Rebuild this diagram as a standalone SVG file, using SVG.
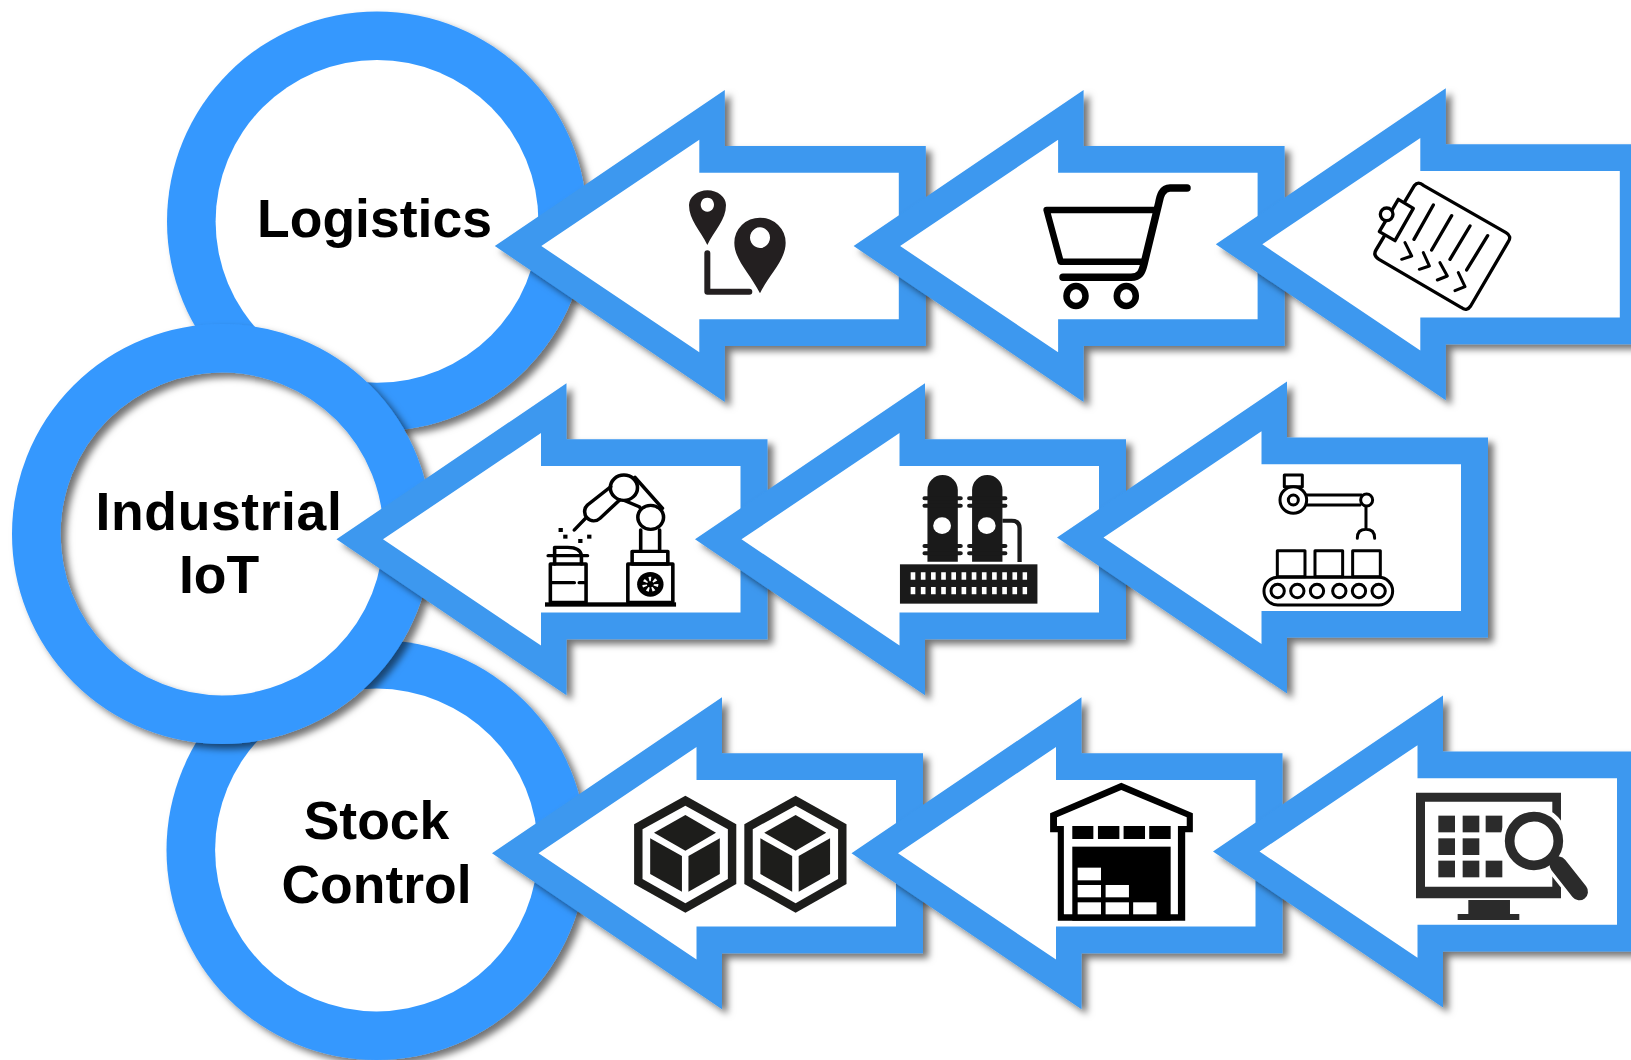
<svg xmlns="http://www.w3.org/2000/svg" xmlns:xlink="http://www.w3.org/1999/xlink" width="1631" height="1060" viewBox="0 0 1631 1060">
<style>
text{font-family:"Liberation Sans",Arial,sans-serif;font-weight:700;font-size:53.5px;fill:#000;text-anchor:middle}
.ln{fill:none;stroke:#000;stroke-linecap:round;stroke-linejoin:round}
.ring{fill:none;stroke:#3698fe;stroke-width:48.6}
.outer{fill:#3698fe}
.disk{fill:#fff}
</style>
<defs>
<filter id="sh" x="-10%" y="-10%" width="125%" height="125%"><feDropShadow dx="5.500" dy="5" stdDeviation="3.500" flood-color="#000" flood-opacity=".55"/></filter>
<g id="arrow">
<polygon filter="url(#sh)" fill="#3c98ef" points="0,0 230,-156 230,-100 431,-100 431,100 230,100 230,156"/>
<polygon fill="#fff" points="46.5,0 204.5,-106.3 204.5,-73.3 404,-73.3 404,73.3 204.5,73.3 204.5,106.3"/>
</g>
<g id="hexbox">
<polygon fill="#1d1d1b" points="197,77 330,163 330,342 197,428 63,342 63,163"/>
<polygon fill="#fff" points="197,107 308,178 308,327 197,400 85,327 85,178"/>
<polygon fill="#1d1d1b" points="197,135 277,188 197,242 115,188"/>
<polygon fill="#1d1d1b" points="105,205 188,258 188,365 105,312"/>
<polygon fill="#1d1d1b" points="205,258 287,205 287,312 205,365"/>
</g>
</defs>
<rect width="1631" height="1060" fill="#fff"/>

<g id="node-logistics">
<circle class="outer" cx="377" cy="221.4" r="210" filter="url(#sh)"/>
<circle class="disk" cx="377" cy="221.4" r="161.4"/>
<text x="374.500" y="236.700">Logistics</text>
</g>
<g id="node-stock-control">
<circle class="outer" cx="376.5" cy="850" r="210" filter="url(#sh)"/>
<circle class="disk" cx="376.5" cy="850" r="161.4"/>
<text x="376.5" y="839">Stock</text>
<text x="376.5" y="903">Control</text>
</g>
<g id="node-industrial-iot">
<circle class="disk" cx="222" cy="534" r="165"/>
<circle class="ring" cx="222" cy="534" r="185.7" filter="url(#sh)"/>
<text x="219" y="529.500" letter-spacing=".6">Industrial</text>
<text x="219" y="593">IoT</text>
</g>

<g id="connectors">
<g id="arrow-route">
<use href="#arrow" transform="translate(494.8,246)"/>
<g transform="translate(660,170) scale(.3333)">
<path fill="#231f20" fill-rule="evenodd" d="M142,225C120,180 87,150 87,105A55.500,44 0 0 1 198,105C198,150 164,180 142,225ZM142,83a20,21 0 1 0 .1,0Z"/>
<path fill="#231f20" fill-rule="evenodd" d="M300,370C270,310 223,270 223,218A77,75 0 0 1 377,218C377,270 330,310 300,370ZM300,172a30,31 0 1 0 .1,0Z"/>
<path fill="none" stroke="#231f20" stroke-width="18" stroke-linecap="round" stroke-linejoin="round" d="M142,250V365H268"/>
</g>
</g>
<g id="arrow-cart">
<use href="#arrow" transform="translate(853.6,246)"/>
<g class="ln" stroke-width="6.500">
<path d="M1187,188H1170C1162,188 1160,196 1158.800,203L1144,264C1142,272 1140,277.300 1131,277.300H1063" stroke-width="7.500"/>
<path d="M1156,210H1046.600L1060.600,261.700H1143.300" stroke-width="6.500"/>
<ellipse cx="1076" cy="296" rx="9.500" ry="10"/>
<ellipse cx="1126.300" cy="296" rx="9.500" ry="10"/>
</g>
</g>
<g id="arrow-clipboard">
<use href="#arrow" transform="translate(1215.800,244.300)"/>
<g transform="translate(1360,170) scale(.3333)" class="ln" stroke-width="10" stroke="#1a1a1a">
<path fill="#fff" d="M163,47Q175,32 190,46L438,188Q456,198 445,215L332,408Q320,426 303,412L57,268Q38,256 48,240Z"/>
<polygon points="115,88 160,115 105,212 58,185" fill="#fff"/>
<circle cx="80" cy="133" r="19" fill="#fff"/>
<path d="M220,105L162,208M275,137L215,240M330,168L270,268M383,197L320,300"/>
<path d="M135,218L155,258L125,268M190,248L208,288L178,298M240,278L262,318L232,330M295,308L315,350L285,362" stroke-width="9"/>
</g>
</g>

<g id="arrow-robot-arm">
<use href="#arrow" transform="translate(336.500,539.300)"/>
<g transform="translate(500,440) scale(.3571,.3333)">
<rect x="126" y="487" width="367" height="13" fill="#000"/>
<g class="ln" stroke-width="10" stroke-linecap="butt">
<rect x="141" y="372" width="100" height="115"/>
<path d="M135,347H245M153,347V372M228,347V372M153,347V322H190Q225,322 228,347M146,428H208M222,428H236"/>
<rect x="358" y="372" width="126" height="115"/>
<rect x="370" y="334" width="100" height="38"/>
<path d="M394,270V334M447,270V334"/>
<path d="M378,112L455,205A40,42 0 0 1 390,200L345,180"/>
<circle cx="347" cy="143" r="38" fill="#fff"/>
<circle cx="422" cy="232" r="36" fill="#fff"/>
<path d="M310,140L245,195A25,27 0 0 0 280,235L335,180"/>
<path d="M242,232L208,270"/>
</g>
<circle cx="421" cy="433" r="37" fill="#000"/>
<circle cx="421" cy="433" r="16" fill="none" stroke="#fff" stroke-width="13" stroke-dasharray="6 7.900"/>
<circle cx="421" cy="433" r="8" fill="#000"/>
<rect x="164" y="264" width="12" height="12"/><rect x="177" y="284" width="12" height="12"/><rect x="219" y="297" width="12" height="12"/><rect x="244" y="284" width="12" height="12"/>
</g>
</g>
<g id="arrow-refinery">
<use href="#arrow" transform="translate(695,539.300)"/>
<g transform="translate(500,440) scale(.3571,.3333)" fill="#1a1a1a">
<path d="M1197,365V150A42.500,45 0 0 1 1282,150V365Z"/>
<path d="M1322,365V150A42.500,45 0 0 1 1407,150V365Z"/>
<path d="M1189,175H1290M1189,197H1290M1189,318H1290M1189,340H1290M1314,175H1415M1314,197H1415M1314,318H1415M1314,340H1415" stroke="#1a1a1a" stroke-width="12" stroke-linecap="round"/>
<circle cx="1238" cy="257" r="25" fill="#fff"/>
<circle cx="1363" cy="257" r="25" fill="#fff"/>
<path d="M1407,242H1433Q1455,242 1455,265V366" fill="none" stroke="#1a1a1a" stroke-width="12"/>
<rect x="1120" y="373" width="385" height="118"/>
<path d="M1150,408H1476M1150,452H1476" stroke="#fff" stroke-width="22" stroke-dasharray="13 15.500" fill="none"/>
</g>
</g>
<g id="arrow-conveyor">
<use href="#arrow" transform="translate(1057,537.600)"/>
<g transform="translate(1180,440) scale(.3333)" class="ln" stroke-width="9" stroke="#111">
<rect x="313" y="105" width="54" height="35"/>
<path d="M375,165H545M378,195H540M558,198V265M532,295Q532,268 558,268Q584,268 584,295"/>
<circle cx="340" cy="180" r="40" fill="#fff"/>
<circle cx="340" cy="180" r="15"/>
<circle cx="560" cy="180" r="18" fill="#fff"/>
<rect x="292" y="332" width="83" height="78"/>
<rect x="405" y="332" width="83" height="78"/>
<rect x="518" y="332" width="83" height="78"/>
<rect x="252" y="412" width="386" height="83" rx="41"/>
<circle cx="293" cy="453" r="20"/><circle cx="352" cy="453" r="20"/><circle cx="411" cy="453" r="20"/><circle cx="478" cy="453" r="20"/><circle cx="537" cy="453" r="20"/><circle cx="596" cy="453" r="20"/>
</g>
</g>

<g id="arrow-boxes">
<use href="#arrow" transform="translate(492,853.300)"/>
<g transform="translate(610,770) scale(.3827,.3333)">
<use href="#hexbox"/>
<use href="#hexbox" x="288"/>
</g>
</g>
<g id="arrow-warehouse">
<use href="#arrow" transform="translate(851.500,853.300)"/>
<g transform="translate(610,770) scale(.3827,.3333)">
<polygon fill="#000" points="1336,38 1523,130 1523,187 1503,187 1503,452 1170,452 1170,187 1150,187 1150,130"/>
<polygon fill="#fff" points="1336,60 1507,142 1507,168 1484,168 1484,433 1186,433 1186,168 1168,168 1168,142"/>
<rect x="1208" y="168" width="55" height="39"/><rect x="1275" y="168" width="56" height="39"/><rect x="1342" y="168" width="56" height="39"/><rect x="1409" y="168" width="56" height="39"/>
<rect x="1208" y="230" width="257" height="222"/>
<g fill="#fff"><rect x="1222" y="293" width="61" height="38"/><rect x="1222" y="345" width="61" height="37"/><rect x="1295" y="345" width="61" height="37"/><rect x="1222" y="397" width="61" height="36"/><rect x="1295" y="397" width="61" height="36"/><rect x="1367" y="397" width="61" height="36"/></g>
</g>
</g>
<g id="arrow-monitor">
<use href="#arrow" transform="translate(1213,851.500)"/>
<g transform="translate(1380,770) scale(.3333)" fill="#2b2b2b">
<path fill-rule="evenodd" d="M108,68H543V385H108ZM135,95V350H517V95Z"/>
<path d="M265,390H390V432H418V450H233V432H265Z"/>
<g><rect x="175" y="137" width="50" height="50"/><rect x="248" y="137" width="50" height="50"/><rect x="317" y="137" width="50" height="50"/><rect x="175" y="205" width="50" height="50"/><rect x="248" y="205" width="50" height="50"/><rect x="175" y="272" width="50" height="50"/><rect x="248" y="272" width="50" height="50"/><rect x="317" y="272" width="50" height="50"/></g>
<circle cx="462" cy="213" r="102" fill="#fff"/>
<path d="M540,290L600,365" stroke="#fff" stroke-width="74" stroke-linecap="round"/>
<circle cx="462" cy="213" r="73" fill="#fff" stroke="#2b2b2b" stroke-width="29"/>
<path d="M535,285L598,365" stroke="#2b2b2b" stroke-width="52" stroke-linecap="round"/>
</g>
</g>
</g>
</svg>
